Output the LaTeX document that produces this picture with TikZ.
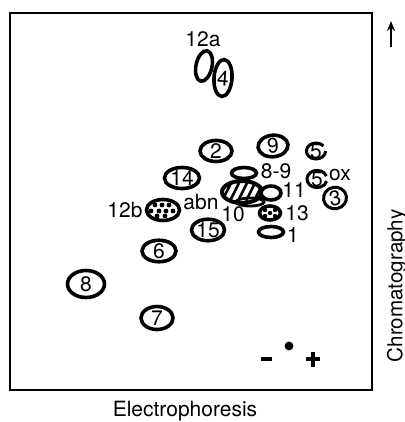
\documentclass[tikz,border=0pt]{standalone}
\usepackage{fontspec}
\setmainfont{TeX Gyre Heros}
\usetikzlibrary{shapes.geometric,arrows.meta}
\tikzset{
  spot/.style={draw, ellipse, line width=1.8pt, inner sep=0pt, font=\fontsize{10.5}{10}\selectfont},
  lab/.style={inner sep=0pt, font=\fontsize{10.5}{10}\selectfont},
}
\begin{document}
\begin{tikzpicture}[x=0.5pt,y=-0.5pt]
\useasboundingbox (0,0) rectangle (404,422);
% frame
\draw[line width=1pt] (10,13) rectangle (372,390);
% axes labels
\coordinate (abot) at (391,47);
\coordinate (atop) at (391,21);
\draw[line width=1pt,-{Stealth[length=5pt,width=4pt]}] (abot) -- (atop);
\node[lab, rotate=90, font=\fontsize{10.3}{10}\selectfont] (chrom) at (397,286) {Chromatography};
\node[lab, font=\fontsize{10.5}{10}\selectfont] (elec) at (185,411) {Electrophoresis};
% top spots
\node[lab] (l12a) at (203,39) {12a};
\node[spot, minimum width=8pt, minimum height=15.5pt, rotate=-12] (s12a) at (204,66) {};
\node[spot, minimum width=9pt, minimum height=18.5pt, rotate=-4, fill=white] (s4) at (223,78) {4};
% middle
\node[spot, minimum width=16pt, minimum height=9.5pt] (s2) at (216,151) {2};
\node[spot, minimum width=15pt, minimum height=9.5pt, rotate=5] (s9) at (273,146) {9};
\node[spot, minimum width=17.5pt, minimum height=10pt] (s14) at (182,178) {14};
\node[lab] (t5) at (316,151) {5};
\draw[line width=1.5pt] (t5.center) ++(3.68pt,2.57pt) arc[start angle=40, end angle=360, x radius=4.8pt, y radius=4pt];
\node[lab] (t5ox) at (317,179) {5};
\draw[line width=1.5pt] (t5ox.center) ++(4.7pt,1.47pt) arc[start angle=20, end angle=345, x radius=5pt, y radius=4.3pt];
\node[lab] (lox) at (340,175) {ox};
\node[spot, minimum width=11.5pt, minimum height=7.5pt, rotate=10, line width=1.5pt] (s3) at (335,198) {3};
% cluster
\node[spot, minimum width=12.5pt, minimum height=5.5pt] (s89) at (244,173) {};
\node[lab] (l89) at (276,171) {8-9};
\node[spot, minimum width=20pt, minimum height=11pt, fill=white, line width=2pt] (sabn) at (242,192) {};
\begin{scope}
  \clip (242,192) ellipse [x radius=9.5pt, y radius=5pt];
  \foreach \xx in {222,230,238,246,254,262}
    \draw[line width=1.3pt] (\xx,201) -- (\xx+9,183);
\end{scope}
\node[lab] (labn) at (201,202) {abn};
\node[spot, minimum width=14pt, minimum height=4pt, line width=1.4pt] (s10) at (250,202) {};
\node[lab] (l10) at (233,214) {10};
\node[spot, minimum width=10pt, minimum height=7pt, fill=white] (s11) at (271,193) {};
\node[lab] (l11) at (294,190) {11};
\node[spot, minimum width=10.5pt, minimum height=7pt] (s13) at (270,213) {};
\foreach \dx/\dy in {-5/-3,5/-3,0/0,-5/3,5/3}
  \fill (270+\dx,213+\dy) circle[radius=1.1pt];
\node[lab] (l13) at (297,213) {13};
\node[spot, minimum width=12.5pt, minimum height=5.5pt] (s1) at (271,232) {};
\node[lab] (l1) at (293,235) {1};
\node[spot, minimum width=16.5pt, minimum height=10.5pt] (s12b) at (163,210) {};
\foreach \dx/\dy in {-8/-5,-1/-5,6/-5,-12/1,-4/1,3/1,10/1,-6/6,2/6}
  \fill (163+\dx,210+\dy) circle[radius=1.2pt];
\node[lab] (l12b) at (125,210) {12b};
\node[spot, minimum width=12.5pt, minimum height=8.5pt] (s15) at (208,230) {15};
% lower
\node[spot, minimum width=17pt, minimum height=10.5pt] (s6) at (159,251) {6};
\node[spot, minimum width=18.5pt, minimum height=13.5pt] (s8) at (86,284) {8};
\node[spot, minimum width=16pt, minimum height=11.5pt] (s7) at (157,318) {7};
% origin and polarity
\fill (289,346) circle[radius=2.2pt];
\coordinate (m1) at (261,359); \coordinate (m2) at (272,359);
\draw[line width=2pt] (m1) -- (m2);
\coordinate (p1) at (306,359); \coordinate (p2) at (320,359);
\coordinate (p3) at (313,352); \coordinate (p4) at (313,367);
\draw[line width=2pt] (p1) -- (p2);
\draw[line width=2pt] (p3) -- (p4);
\end{tikzpicture}
\end{document}
